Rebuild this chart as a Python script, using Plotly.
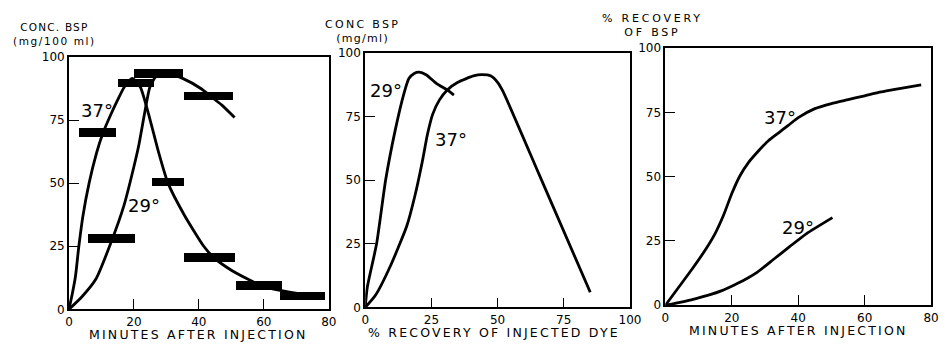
import plotly.graph_objects as go

# ---- Panel A: blood BSP concentration vs time (collection blocks + fitted curves)
blk_start = [3.0, 6.0, 15.2, 20.0, 35.5, 25.5, 35.5, 51.5, 65.0]
blk_end = [14.5, 20.3, 26.2, 35.1, 50.6, 35.5, 51.0, 65.7, 78.8]
blk_conc = [70.0, 28.0, 89.7, 93.5, 84.5, 50.5, 20.5, 9.5, 5.3]

a37_t = [0, 1.0, 2.0, 3.0, 4.3, 6.2, 8.5, 10.5, 13.0, 15.0, 17.0, 19.5, 22.0,
         25.0, 27.5, 30.5, 35.5, 41.5, 44.6, 50.0, 55.0, 59.0, 65.0, 72.0, 78.5]
a37_c = [0, 6.0, 13.0, 24.5, 37.0, 50.0, 62.0, 70.0, 77.5, 83.0, 88.0, 91.5, 88.0,
         75.0, 62.7, 50.0, 37.4, 25.0, 20.5, 15.5, 12.0, 9.5, 7.5, 6.0, 5.0]
a29_t = [0, 4.0, 8.3, 12.8, 16.9, 19.9, 21.5, 23.4, 24.9, 27.0, 31.5, 35.0, 40.6,
         44.0, 47.0, 51.0]
a29_c = [0, 5.0, 12.0, 26.0, 41.0, 56.0, 65.0, 78.5, 88.0, 92.5, 93.0, 91.5, 87.5,
         84.0, 81.0, 76.0]

# ---- Panel B: BSP concentration vs % recovery of injected dye
b29_r = [0, 0.8, 4.3, 7.7, 11.4, 14.6, 16.5, 18.5, 20.4, 23.0, 27.0, 31.0, 33.5]
b29_c = [0, 8.0, 25.0, 50.0, 70.0, 84.0, 90.0, 92.0, 92.5, 91.5, 88.0, 85.5, 83.5]
b37_r = [0, 4.0, 9.6, 15.7, 18.8, 21.5, 23.5, 25.5, 28.0, 31.0, 35.0, 40.9, 44.0,
         47.5, 50.0, 52.0, 65.8, 85.0]
b37_c = [0, 5.0, 16.5, 32.0, 44.0, 57.0, 68.0, 76.0, 81.5, 85.5, 88.5, 91.0, 91.5,
         91.0, 88.5, 85.0, 52.0, 6.0]

# ---- Panel C: cumulative % recovery of BSP vs time
c37_t = [0, 4.0, 8.0, 12.0, 15.0, 17.5, 20.0, 22.5, 25.0, 28.0, 31.0, 34.0,
         37.0, 40.0, 45.0, 50.0, 55.0, 60.0, 65.0, 70.0, 77.0]
c37_r = [0, 7.0, 14.0, 21.5, 28.0, 35.0, 43.5, 50.5, 55.5, 60.0, 64.0, 67.0,
         70.0, 73.0, 76.5, 78.5, 80.0, 81.5, 83.0, 84.2, 85.8]
c29_t = [0, 4.0, 7.8, 13.7, 17.0, 20.6, 24.0, 27.6, 32.5, 37.4, 42.4, 50.3]
c29_r = [0, 1.0, 2.1, 4.2, 5.7, 7.8, 10.0, 12.8, 17.8, 22.8, 27.8, 34.1]

W, H = 950, 349
FONT = "DejaVu Sans"
INK = "black"

fig = go.Figure()

# collection-period blocks drawn as horizontal bars
fig.add_trace(go.Bar(
    orientation="h",
    y=blk_conc,
    base=blk_start,
    x=[e - s for s, e in zip(blk_start, blk_end)],
    width=3.4,
    marker=dict(color=INK, line=dict(width=0)),
    xaxis="x", yaxis="y", showlegend=False, hoverinfo="skip",
))

curve = dict(color=INK, width=2.8, shape="spline", smoothing=0.55)


def add_curve(xs, ys, ax):
    fig.add_trace(go.Scatter(
        x=xs, y=ys, mode="lines", line=curve,
        xaxis="x" + ax, yaxis="y" + ax, showlegend=False, hoverinfo="skip",
    ))


add_curve(a37_t, a37_c, "")
add_curve(a29_t, a29_c, "")
add_curve(b29_r, b29_c, "2")
add_curve(b37_r, b37_c, "2")
add_curve(c37_t, c37_r, "3")
add_curve(c29_t, c29_r, "3")


def px_x(p):
    return p / W


def px_y(p):
    return 1 - p / H


axis_common = dict(
    showline=True, linecolor=INK, linewidth=1.8, mirror=True,
    ticks="inside", ticklen=10, tickwidth=1.4, tickcolor=INK,
    showgrid=False, zeroline=False, fixedrange=True,
    tickfont=dict(family=FONT, size=12, color=INK),
)

panels = [
    # (x-suffix, x-domain px, y-domain px (bottom, top), x range, x ticks)
    ("", (66, 330), (315, 52), [0, 80], [0, 20, 40, 60, 80]),
    ("2", (367, 636), (313, 48), [0, 100], [0, 25, 50, 75, 100]),
    ("3", (672, 942), (310.7, 43), [0, 80], [0, 20, 40, 60, 80]),
]

for sfx, (x0, x1), (yb, yt), xr, xt in panels:
    fig.layout["xaxis" + sfx] = dict(
        axis_common, domain=[px_x(x0), px_x(x1)], range=xr,
        tickvals=xt, anchor="y" + sfx,
    )
    fig.layout["yaxis" + sfx] = dict(
        axis_common, domain=[px_y(yb), px_y(yt)], range=[0, 100],
        tickvals=[0, 25, 50, 75, 100], anchor="x" + sfx,
    )


def spaced(text, gap):
    return f"<span style='letter-spacing:{gap}px'>{text}</span>"


ann = []


def paper_text(text, cx, cy, size):
    ann.append(dict(
        text=text, x=px_x(cx), y=px_y(cy), xref="paper", yref="paper",
        xanchor="center", yanchor="middle", showarrow=False,
        font=dict(family=FONT, size=size, color=INK),
    ))


# vertical-axis captions (two lines each)
paper_text(spaced("CONC. BSP", 1.2) + "<br>" + spaced("(mg/100 ml)", 1.6), 51, 28, 10.5)
paper_text(spaced("CONC BSP", 2.3) + "<br>" + spaced("(mg/ml)", 1.3), 364, 26, 11)
paper_text(spaced("% RECOVERY", 2.8) + "<br>" + spaced("OF BSP", 2.8), 659, 19, 11)

# horizontal-axis captions
paper_text(spaced("MINUTES AFTER INJECTION", 2.2), 198, 341, 12.5)
paper_text(spaced("% RECOVERY OF INJECTED DYE", 2.2), 498, 339, 12.5)
paper_text(spaced("MINUTES AFTER INJECTION", 2.2), 807, 337, 12.5)


def curve_label(text, x, y, ax):
    ann.append(dict(
        text=text, x=x, y=y, xref="x" + ax, yref="y" + ax,
        xanchor="center", yanchor="middle", showarrow=False,
        font=dict(family=FONT, size=18, color=INK),
    ))


curve_label("37°", 8.5, 78.6, "")
curve_label("29°", 23.2, 41.2, "")
curve_label("29°", 7.9, 85.4, "2")
curve_label("37°", 32.3, 65.9, "2")
curve_label("37°", 34.5, 72.9, "3")
curve_label("29°", 39.9, 30.3, "3")

fig.update_layout(
    width=W, height=H, autosize=False,
    margin=dict(l=0, r=0, t=0, b=0),
    paper_bgcolor="white", plot_bgcolor="white",
    barmode="overlay", bargap=0,
    annotations=ann,
    showlegend=False,
)

fig.write_html("out.html", config={"displayModeBar": False})
